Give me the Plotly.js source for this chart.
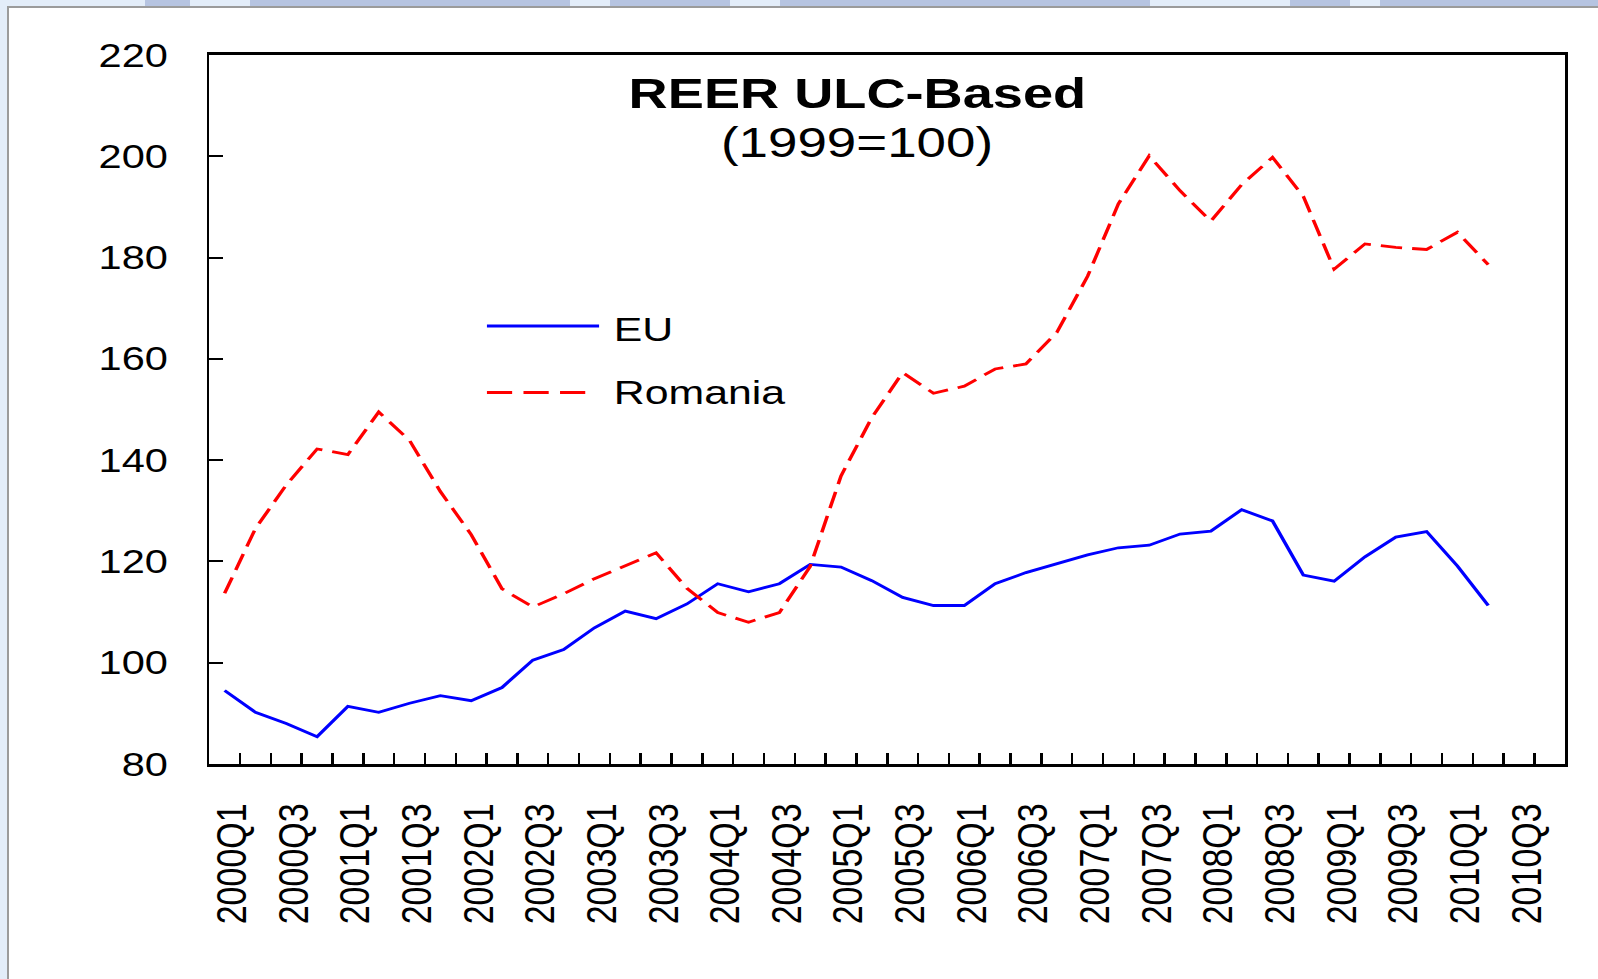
<!DOCTYPE html>
<html>
<head>
<meta charset="utf-8">
<script src="https://cdn.plot.ly/plotly-3.0.1.min.js"></script>
<style>
  html, body { margin: 0; padding: 0; width: 1598px; height: 979px; overflow: hidden; background: #e3edf9; }
  #frame { position: absolute; left: 7px; top: 6px; width: 1591px; height: 973px; background: #fff;
           border-left: 2px solid #9b9b9b; border-top: 2px solid #9b9b9b; }
  .band { position: absolute; top: 0; height: 6px; background: #b6c4e1; }
  /* the reference is stretched sideways, so draw narrower and scale x */
  #chart { position: absolute; left: 0; top: 0; width: 1268px; height: 979px;
           transform: scaleX(1.2603); transform-origin: 0 0; }
</style>
</head>
<body>
<div class="band" style="left:145px;width:45px"></div>
<div class="band" style="left:250px;width:320px"></div>
<div class="band" style="left:610px;width:120px"></div>
<div class="band" style="left:780px;width:370px"></div>
<div class="band" style="left:1290px;width:60px"></div>
<div class="band" style="left:1380px;width:218px"></div>
<div id="frame"></div>
<div id="chart"></div>
<script>
var quarters = ['2000Q1','2000Q2','2000Q3','2000Q4','2001Q1','2001Q2','2001Q3','2001Q4',
  '2002Q1','2002Q2','2002Q3','2002Q4','2003Q1','2003Q2','2003Q3','2003Q4',
  '2004Q1','2004Q2','2004Q3','2004Q4','2005Q1','2005Q2','2005Q3','2005Q4',
  '2006Q1','2006Q2','2006Q3','2006Q4','2007Q1','2007Q2','2007Q3','2007Q4',
  '2008Q1','2008Q2','2008Q3','2008Q4','2009Q1','2009Q2','2009Q3','2009Q4',
  '2010Q1','2010Q2','2010Q3','2010Q4'];

var eu = [94.5, 90.2, 88.0, 85.4, 91.4, 90.2, 92.0, 93.5, 92.5, 95.1,
  100.5, 102.6, 106.9, 110.2, 108.7, 111.6, 115.6, 114.0, 115.6, 119.4,
  118.9, 116.2, 112.9, 111.3, 111.3, 115.6, 117.8, 119.6, 121.3, 122.7,
  123.2, 125.4, 126.0, 130.2, 128.0, 117.3, 116.1, 120.9, 124.8, 125.9,
  119.1, 111.3];

var romania = [113.7, 126.5, 135.1, 142.2, 141.1, 149.5, 143.9, 133.8, 125.3, 114.6,
  111.0, 113.6, 116.6, 119.2, 121.7, 114.7, 109.9, 108.0, 109.9, 119.0,
  136.9, 148.4, 157.3, 153.2, 154.6, 158.0, 159.0, 165.2, 176.3, 190.6,
  200.1, 193.2, 187.2, 194.4, 199.8, 192.1, 177.7, 182.7, 182.0, 181.6,
  185.0, 178.6];

var FONT = 'Arial, "Liberation Sans", sans-serif';

var trace1 = {
  x: quarters.slice(0, eu.length),
  y: eu,
  name: 'EU',
  type: 'scatter',
  mode: 'lines',
  line: {color: '#0000ff', width: 2.8}
};

var trace2 = {
  x: quarters.slice(0, romania.length),
  y: romania,
  name: 'Romania',
  type: 'scatter',
  mode: 'lines',
  line: {color: '#ff0000', width: 2.8, dash: '17px,8px'}
};

var data = [trace1, trace2];

var layout = {
  width: 1268,
  height: 979,
  margin: {l: 166, r: 26, t: 55, b: 215},
  paper_bgcolor: 'rgba(0,0,0,0)',
  plot_bgcolor: '#ffffff',
  font: {family: FONT, color: '#000', size: 33},
  showlegend: false,
  title: {
    text: '<b>REER ULC-Based</b>',
    font: {family: FONT, size: 43, color: '#000'},
    xref: 'paper', x: 0.478, xanchor: 'center',
    yref: 'container', y: 0.920, yanchor: 'top'
  },
  xaxis: {
    type: 'category',
    categoryorder: 'array',
    categoryarray: quarters,
    range: [-0.5, quarters.length - 0.5],
    tickmode: 'linear', tick0: 0, dtick: 1, ticklabelstep: 2,
    tickson: 'boundaries',
    ticks: 'inside', ticklen: 11, tickwidth: 1.6, tickcolor: '#000',
    tickangle: -90,
    tickfont: {family: FONT, size: 34, color: '#000'},
    ticklabelstandoff: 23,
    ticklabelshift: 6,
    showline: true, linewidth: 2.6, linecolor: '#000', mirror: true,
    showgrid: false, zeroline: false
  },
  yaxis: {
    range: [80, 220],
    tickmode: 'linear', tick0: 80, dtick: 20,
    ticks: 'inside', ticklen: 11, tickwidth: 2, tickcolor: '#000',
    tickfont: {family: FONT, size: 33, color: '#000'},
    ticklabelstandoff: 24,
    showline: true, linewidth: 2.3, linecolor: '#000', mirror: true,
    showgrid: false, zeroline: false
  },
  annotations: [
    {text: '(1999=100)', xref: 'paper', yref: 'paper', x: 0.478, y: 0.8759,
     xanchor: 'center', yanchor: 'middle', showarrow: false,
     font: {family: FONT, size: 42, color: '#000'}},
    // legend labels
    {text: 'EU', xref: 'paper', yref: 'paper', x: 0.2963, y: 0.6135,
     xanchor: 'left', yanchor: 'middle', showarrow: false,
     font: {family: FONT, size: 34, color: '#000'}},
    {text: 'Romania', xref: 'paper', yref: 'paper', x: 0.2963, y: 0.5247,
     xanchor: 'left', yanchor: 'middle', showarrow: false,
     font: {family: FONT, size: 34, color: '#000'}}
  ],
  shapes: [
    // legend samples
    {type: 'line', xref: 'paper', yref: 'paper', x0: 0.2048, x1: 0.2875, y0: 0.6178, y1: 0.6178,
     line: {color: '#0000ff', width: 2.8}},
    {type: 'line', xref: 'paper', yref: 'paper', x0: 0.2048, x1: 0.2779, y0: 0.524, y1: 0.524,
     line: {color: '#ff0000', width: 2.8, dash: '20px,9px'}}
  ]
};

var config = {responsive: false, displayModeBar: false};
Plotly.newPlot('chart', data, layout, config);
</script>
</body>
</html>
